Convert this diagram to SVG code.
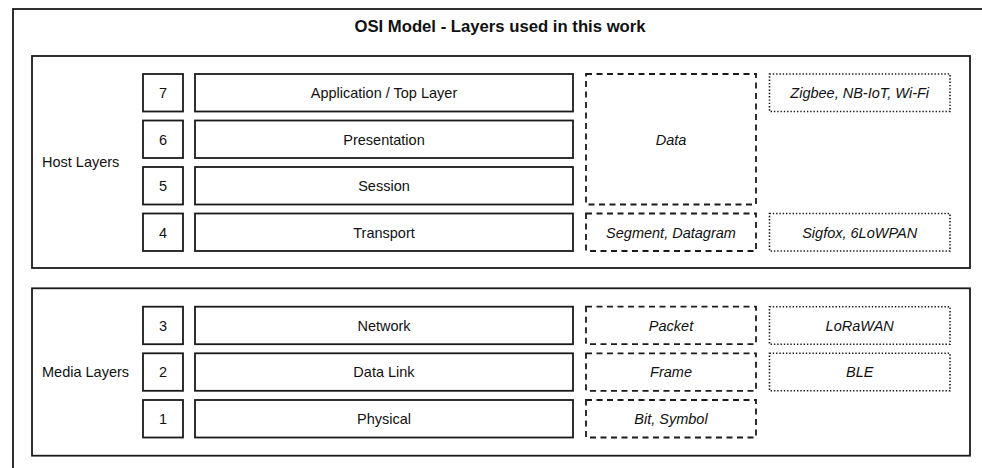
<svg xmlns="http://www.w3.org/2000/svg" width="982" height="468" viewBox="0 0 982 468">
<style>
.b{fill:#fff;stroke:#1a1a1a;stroke-width:1.8}
.d{fill:#fff;stroke:#1a1a1a;stroke-width:1.8;stroke-dasharray:6 4.5}
.o{fill:#fff;stroke:#1a1a1a;stroke-width:1.6;stroke-dasharray:1.4 1.9}
text{font-family:"Liberation Sans",Arial,sans-serif;font-size:14.5px;fill:#111}
.c{text-anchor:middle}
.i{font-style:italic;text-anchor:middle}
.t{font-weight:bold;font-size:16.7px;text-anchor:middle}
</style>
<rect width="982" height="468" fill="#fff"/>
<g id="outer">
<rect class="b" x="13" y="9" width="1000" height="500"/>
<text class="t" x="500" y="32">OSI Model - Layers used in this work</text>
</g>
<g id="host">
<rect class="b" x="32" y="56" width="938" height="212"/>
<text x="42" y="166.5">Host Layers</text>
</g>
<g id="media">
<rect class="b" x="32" y="288.3" width="938" height="167.4"/>
<text x="42" y="377">Media Layers</text>
</g>
<g id="n7"><rect class="b" x="143" y="74" width="40" height="37.5"/><text class="c" x="163" y="98">7</text></g>
<g id="n6"><rect class="b" x="143" y="120.5" width="40" height="37.5"/><text class="c" x="163" y="144.5">6</text></g>
<g id="n5"><rect class="b" x="143" y="167" width="40" height="37.5"/><text class="c" x="163" y="191">5</text></g>
<g id="n4"><rect class="b" x="143" y="213.5" width="40" height="37.5"/><text class="c" x="163" y="237.5">4</text></g>
<g id="n3"><rect class="b" x="143" y="306.7" width="40" height="37.5"/><text class="c" x="163" y="330.7">3</text></g>
<g id="n2"><rect class="b" x="143" y="353.3" width="40" height="37.5"/><text class="c" x="163" y="377.3">2</text></g>
<g id="n1"><rect class="b" x="143" y="400" width="40" height="37.5"/><text class="c" x="163" y="424">1</text></g>
<g id="l7"><rect class="b" x="195" y="74" width="378" height="37.5"/><text class="c" x="384" y="98">Application / Top Layer</text></g>
<g id="l6"><rect class="b" x="195" y="120.5" width="378" height="37.5"/><text class="c" x="384" y="144.5">Presentation</text></g>
<g id="l5"><rect class="b" x="195" y="167" width="378" height="37.5"/><text class="c" x="384" y="191">Session</text></g>
<g id="l4"><rect class="b" x="195" y="213.5" width="378" height="37.5"/><text class="c" x="384" y="237.5">Transport</text></g>
<g id="l3"><rect class="b" x="195" y="306.7" width="378" height="37.5"/><text class="c" x="384" y="330.7">Network</text></g>
<g id="l2"><rect class="b" x="195" y="353.3" width="378" height="37.5"/><text class="c" x="384" y="377.3">Data Link</text></g>
<g id="l1"><rect class="b" x="195" y="400" width="378" height="37.5"/><text class="c" x="384" y="424">Physical</text></g>
<g id="data"><rect class="d" x="586" y="74" width="170" height="130.5"/><text class="i" x="671" y="144.5">Data</text></g>
<g id="segment"><rect class="d" x="586" y="213.5" width="170" height="37.5"/><text class="i" x="671" y="237.5">Segment, Datagram</text></g>
<g id="packet"><rect class="d" x="586" y="306.7" width="170" height="37.5"/><text class="i" x="671" y="330.7">Packet</text></g>
<g id="frame"><rect class="d" x="586" y="353.3" width="170" height="37.5"/><text class="i" x="671" y="377.3">Frame</text></g>
<g id="bit"><rect class="d" x="586" y="400" width="170" height="37.5"/><text class="i" x="671" y="424">Bit, Symbol</text></g>
<g id="zigbee"><rect class="o" x="769.5" y="74" width="180.5" height="37.5"/><text class="i" x="859.7" y="98">Zigbee, NB-IoT, Wi-Fi</text></g>
<g id="sigfox"><rect class="o" x="769.5" y="213.5" width="180.5" height="37.5"/><text class="i" x="859.7" y="237.5">Sigfox, 6LoWPAN</text></g>
<g id="lorawan"><rect class="o" x="769.5" y="306.7" width="180.5" height="37.5"/><text class="i" x="859.7" y="330.7">LoRaWAN</text></g>
<g id="ble"><rect class="o" x="769.5" y="353.3" width="180.5" height="37.5"/><text class="i" x="859.7" y="377.3">BLE</text></g>
<g id="connectors"></g>
</svg>
